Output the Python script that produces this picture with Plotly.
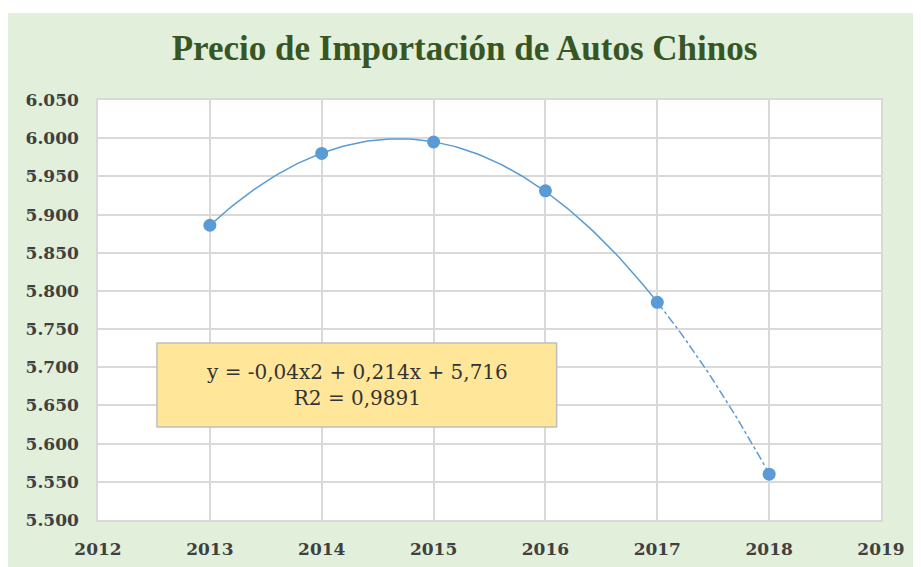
import numpy as np
import plotly.graph_objects as go

years = [2013, 2014, 2015, 2016, 2017]
prices = [5.886, 5.980, 5.995, 5.931, 5.785]
forecast_year = [2018]
forecast_price = [5.560]
x_ticks = [2012, 2013, 2014, 2015, 2016, 2017, 2018, 2019]
title_text = "Precio de Importación de Autos Chinos"
eq_text = "y = -0,04x2 + 0,214x + 5,716<br>R2 = 0,9891"

blue = "#5B9BD5"
grid = "#D9D9D9"
green_bg = "#E2EFDA"

# polynomial trendline (order 2) fitted on the period index 1..n
idx = np.arange(1, len(years) + 1)
coef = np.polyfit(idx, prices, 2)
t_fit = np.linspace(1, len(years), 120)
t_fc = np.linspace(len(years), len(years) + 1, 30)
x_fit = years[0] - 1 + t_fit
x_fc = years[0] - 1 + t_fc

fig = go.Figure()
fig.add_trace(go.Scatter(x=x_fit, y=np.polyval(coef, t_fit), mode="lines",
                         line=dict(color=blue, width=1.5), hoverinfo="skip", showlegend=False))
fig.add_trace(go.Scatter(x=x_fc, y=np.polyval(coef, t_fc), mode="lines",
                         line=dict(color=blue, width=1.5, dash="dashdot"), hoverinfo="skip", showlegend=False))
fig.add_trace(go.Scatter(x=years + forecast_year, y=prices + forecast_price, mode="markers",
                         marker=dict(color=blue, size=13), showlegend=False))

# thin white strip above the green chart area
fig.add_shape(type="rect", xref="paper", yref="paper", x0=-0.2, x1=1.2, y0=1.2071, y1=1.3,
              fillcolor="white", line=dict(width=0), layer="below")

# equation box
bx0, bx1, by0, by1 = 2012.527, 2016.10, 5.6218, 5.7318
fig.add_shape(type="rect", xref="x", yref="y", x0=bx0, x1=bx1, y0=by0, y1=by1,
              fillcolor="#FFE699", line=dict(color="#BFBFBF", width=1.5), layer="above")
fig.add_annotation(x=(bx0 + bx1) / 2, y=(by0 + by1) / 2, xref="x", yref="y",
                   text=eq_text, showarrow=False,
                   font=dict(family="DejaVu Serif", size=20, color="#333333"))

fig.update_layout(
    width=913, height=559,
    margin=dict(l=90, r=40, t=92, b=47),
    paper_bgcolor=green_bg, plot_bgcolor="white",
    title=dict(text="<b>" + title_text + "</b>", x=0.5, xanchor="center", y=1 - 40 / 559, yanchor="middle",
               font=dict(family="Liberation Serif", size=35, color="#375623")),
    font=dict(family="DejaVu Serif", color="#404040"),
)
fig.update_xaxes(range=[2012, 2019], tickvals=x_ticks, ticktext=["<b>%d</b>" % v for v in x_ticks],
                 showgrid=True, gridcolor=grid, gridwidth=1.5, zeroline=False,
                 showline=True, linecolor=grid, linewidth=1.5, mirror=True,
                 tickfont=dict(family="DejaVu Serif", size=17, color="#404040"), ticks="",
                 ticklabelstandoff=13, automargin=False)
y_ticks = [5.5 + 0.05 * i for i in range(12)]
fig.update_yaxes(range=[5.5, 6.05], tickvals=y_ticks, ticktext=["<b>%.3f</b>" % v for v in y_ticks],
                 showgrid=True, gridcolor=grid, gridwidth=1.5, zeroline=False,
                 showline=True, linecolor=grid, linewidth=1.5, mirror=True,
                 tickfont=dict(family="DejaVu Serif", size=17, color="#404040"), ticks="",
                 ticklabelstandoff=14, automargin=False)

fig.write_html("out.html")
